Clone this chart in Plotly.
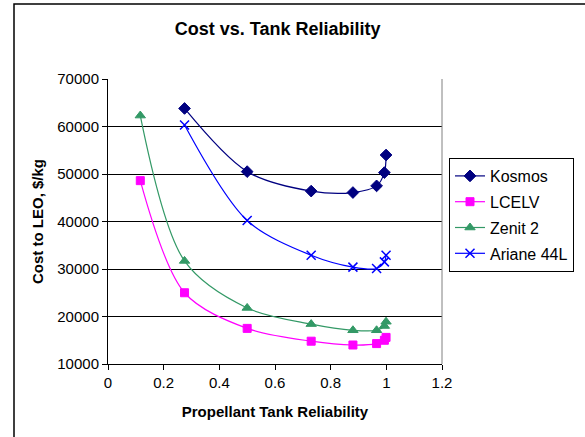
import plotly.graph_objects as go

# Data
rel_short = [0.275, 0.5, 0.73, 0.88, 0.965, 0.993, 0.999]
rel_long = [0.116, 0.275, 0.5, 0.73, 0.88, 0.965, 0.993, 0.999]

kosmos = [63800, 50500, 46400, 46100, 47500, 50300, 54000]
lcelv = [48600, 25000, 17500, 14800, 14000, 14300, 15000, 15600]
zenit2 = [62300, 31700, 21800, 18400, 17100, 17100, 18000, 18900]
ariane44l = [60300, 40200, 32900, 30400, 30100, 31500, 32900]

x_ticks = [0, 0.2, 0.4, 0.6, 0.8, 1, 1.2]
y_ticks = [10000, 20000, 30000, 40000, 50000, 60000, 70000]

FONT = "Liberation Sans, Arial, sans-serif"

series = [
    ("Kosmos", rel_short, kosmos, "#000080", "diamond", 9, 1),
    ("LCELV", rel_long, lcelv, "#FF00FF", "square", 8, 1),
    ("Zenit 2", rel_long, zenit2, "#339966", "triangle-up", 9, 1),
    ("Ariane 44L", rel_short, ariane44l, "#0000FF", "x-thin-open", 9, 1.5),
]

fig = go.Figure()
for name, xs, ys, color, sym, size, mlw in series:
    fig.add_trace(go.Scatter(
        x=xs, y=ys, name=name, mode="lines+markers", legendgroup=name,
        line=dict(color=color, width=1.2, shape="spline", smoothing=0.9),
        marker=dict(symbol=sym, size=size, color=color,
                    line=dict(color=color, width=mlw)),
    ))

fig.update_layout(
    width=585, height=437,
    margin=dict(l=108, r=143, t=79, b=73, autoexpand=False),
    paper_bgcolor="white", plot_bgcolor="white",
    font=dict(family=FONT, size=14, color="black"),
    title=dict(text="<b>Cost vs. Tank Reliability</b>", font=dict(size=18),
               x=0.508, xref="paper", xanchor="center",
               y=1 - 28.5 / 437, yref="container", yanchor="middle"),
    showlegend=True,
    legend=dict(x=(449 - 108) / 334, y=(364 - 158) / 285, xanchor="left", yanchor="top",
                bordercolor="black", borderwidth=1, bgcolor="white",
                font=dict(size=16), tracegroupgap=2),
    xaxis=dict(range=[0, 1.2], tickvals=x_ticks, ticktext=[f"{v:g}" for v in x_ticks],
               automargin=False,
               showgrid=False, zeroline=False, showline=True, linecolor="black",
               linewidth=1, ticks="outside", ticklen=5, tickcolor="black",
               tickfont=dict(size=15),
               title=dict(text="<b>Propellant Tank Reliability</b>",
                          font=dict(size=15), standoff=16)),
    yaxis=dict(range=[10000, 70000], tickvals=y_ticks, ticktext=[str(v) for v in y_ticks],
               automargin=False,
               showgrid=True, gridcolor="black", gridwidth=1, zeroline=False,
               showline=True, linecolor="black", linewidth=1,
               ticks="outside", ticklen=5, tickcolor="black",
               tickfont=dict(size=15),
               title=dict(text="<b>Cost to LEO, $/kg</b>",
                          font=dict(size=15), standoff=10)),
    shapes=[
        dict(type="line", xref="paper", yref="paper", x0=1, x1=1, y0=0, y1=1,
             line=dict(color="#808080", width=1)),
        dict(type="rect", xref="paper", yref="paper",
             x0=(14 - 108) / 334, x1=(595 - 108) / 334,
             y0=(364 - 450) / 285, y1=(364 - 4) / 285,
             line=dict(color="black", width=1.5), fillcolor="rgba(0,0,0,0)"),
    ],
)

fig.write_html("out.html", config={"displayModeBar": False},
               post_script="document.body.style.margin='0px';")
